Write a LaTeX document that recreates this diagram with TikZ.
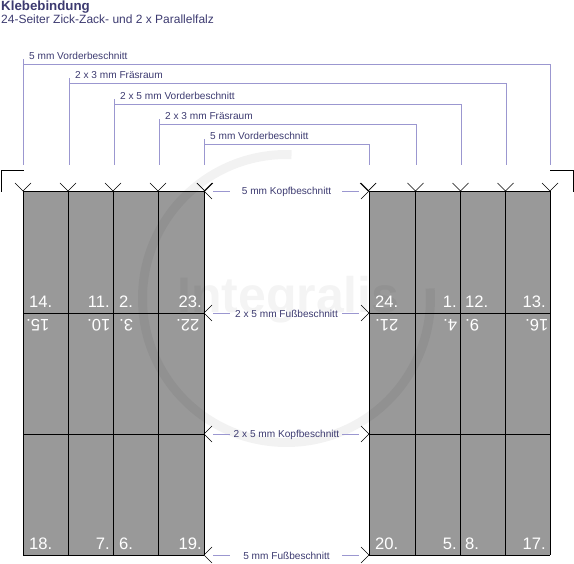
\documentclass[tikz,border=0pt]{standalone}
\usepackage{fontspec}
\setmainfont{Liberation Sans}
\definecolor{cink}{HTML}{3C3A70}
\definecolor{clead}{HTML}{9B97D0}
\definecolor{cpage}{HTML}{999999}
\tikzset{
  lbl/.style={font=\fontsize{10.1}{12}\selectfont, text=cink, inner sep=0pt},
  lead/.style={draw=clead, line width=0.8pt},
  tick/.style={draw=black, line width=0.7pt},
  folio/.style={font=\fontsize{16.6}{19}\selectfont, text=white, inner sep=0pt},
  rule/.style={draw=black, line width=0.9pt},
}
\begin{document}
\begin{tikzpicture}[x=1pt, y=-1pt]
  \useasboundingbox (0,0) rectangle (574,564);
  % title
  \node[font=\fontsize{13.3}{15}\selectfont\bfseries, text=cink, inner sep=0pt, anchor=base west] (title) at (1,10.5) {Klebebindung};
  \node[font=\fontsize{12}{14}\selectfont, text=cink, inner sep=0pt, anchor=base west] (subtitle) at (1,24) {24-Seiter Zick-Zack- und 2 x Parallelfalz};
  % pages
  \fill[cpage] (23,191) rectangle (204,555);
  \fill[cpage] (369,191) rectangle (550,555);
  % watermark
  \coordinate (ringc) at (286.5,298.5);
  \draw[black, opacity=0.05, line width=9pt] ([shift={(272:144)}]ringc) arc[start angle=272, end angle=-4, radius=144];
  \node[font=\fontsize{50}{52}\selectfont\bfseries, text=black, opacity=0.045, inner sep=0pt, anchor=base west] (mark) at (177,313) {Integralis};
  % grid
  \foreach \x in {23,68,113,158,204,369,415.5,460.5,505.5,550} {
    \draw[rule] (\x,191) -- (\x,555);
  }
  \foreach \y in {191,313,434,555} {
    \draw[rule] (23,\y) -- (204,\y);
    \draw[rule] (369,\y) -- (550,\y);
  }
  % crop marks
  \draw[rule] (1,192) -- (1,170) -- (24,170);
  \draw[rule] (550,170) -- (573,170) -- (573,192);
  \foreach \x in {23,68,113,158,204.8,368.2,415.5,460.5,505.5,550} {
    \draw[tick] (\x-8,183) -- (\x,191) -- (\x+8,183);
  }
  \foreach \y in {191,313,434,555} {
    \draw[tick] (212,\y-8) -- (204,\y) -- (212,\y+8);
    \draw[tick] (361,\y-8) -- (369,\y) -- (361,\y+8);
  }
  % top leads
  \foreach \i/\xl/\xr/\yh/\t in {1/23.5/550.5/64.5/5 mm Vorderbeschnitt,
      2/69.5/506.5/83.5/2 x 3 mm Fräsraum,
      3/114.5/461.5/104.5/2 x 5 mm Vorderbeschnitt,
      4/159.5/416.5/124.5/2 x 3 mm Fräsraum,
      5/204.5/369.5/144.5/5 mm Vorderbeschnitt} {
    \node[lbl, anchor=base west] (lead\i) at (\xl+5.5,\yh-5) {\t};
    \coordinate (ls\i) at (\xl,165);
    \coordinate (lt\i) at (\xl,\yh-5);
    \coordinate (lc\i) at (\xl,\yh);
    \coordinate (le\i) at (\xr,165);
    \draw[lead] (ls\i) -- (lt\i);
    \draw[lead] (lc\i) -| (le\i);
  }
  % side leads
  \foreach \i/\y/\t in {1/191/5 mm Kopfbeschnitt, 2/313/2 x 5 mm Fußbeschnitt,
      3/434/2 x 5 mm Kopfbeschnitt, 4/555/5 mm Fußbeschnitt} {
    \node[lbl] (side\i) at (286.5,\y+0.5) {\t};
    \coordinate (sa\i) at (213,\y);
    \coordinate (sb\i) at (230,\y);
    \coordinate (sc\i) at (342,\y);
    \coordinate (sd\i) at (359,\y);
    \draw[lead] (sa\i) -- (sb\i);
    \draw[lead] (sc\i) -- (sd\i);
  }
  % folios
  \foreach \n/\x/\a in {14/29/west, 11/110/east, 2/119/west, 23/202/east,
      24/375/west, 1/457/east, 12/465/west, 13/546/east} {
    \node[folio, anchor=base \a] (p\n) at (\x,308) {\n.};
  }
  \foreach \n/\x/\a in {18/29/west, 7/110/east, 6/119/west, 19/202/east,
      20/375/west, 5/457/east, 8/465/west, 17/546/east} {
    \node[folio, anchor=base \a] (p\n) at (\x,550) {\n.};
  }
  \foreach \n/\x in {15/26, 10/87, 3/119, 22/176, 21/375, 4/443, 9/465, 16/525} {
    \node[folio, rotate=180, anchor=base east] (p\n) at (\x,320) {\n.};
  }
\end{tikzpicture}
\end{document}
